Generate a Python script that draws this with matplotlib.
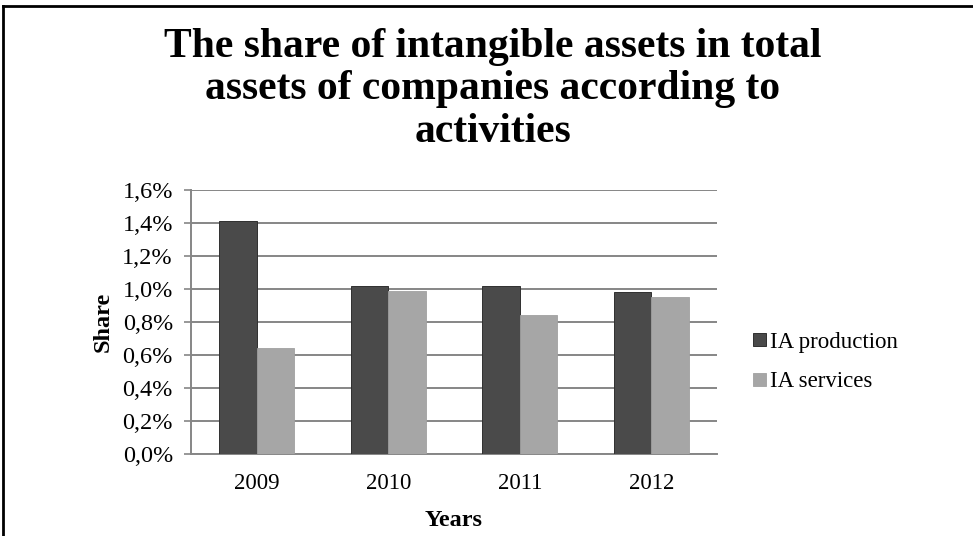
import matplotlib.pyplot as plt
from matplotlib.lines import Line2D
from matplotlib.ticker import FuncFormatter

years = ["2009", "2010", "2011", "2012"]
ia_production = [1.41, 1.02, 1.02, 0.98]
ia_services = [0.64, 0.99, 0.84, 0.95]
yticks = [0.0, 0.2, 0.4, 0.6, 0.8, 1.0, 1.2, 1.4, 1.6]

plt.rcParams["font.family"] = ["Liberation Serif", "DejaVu Serif"]

W, H = 973, 536
fig = plt.figure(figsize=(W / 100, H / 100), dpi=100)
ax = fig.add_axes([191 / W, 1 - 454 / H, (717 - 191) / W, (454 - 190) / H])

x = list(range(len(years)))
w = 0.285
ax.bar([i - w / 2 for i in x], ia_production, width=w, color="#4a4a4a",
       edgecolor="#303030", linewidth=0.7, label="IA production", zorder=3)
ax.bar([i + w / 2 for i in x], ia_services, width=w, color="#a6a6a6",
       edgecolor="#a0a0a0", linewidth=0.6, label="IA services", zorder=3)

ax.set_xlim(-0.5, len(years) - 0.5)
ax.set_ylim(0, 1.6)
ax.set_yticks(yticks)
ax.yaxis.set_major_formatter(FuncFormatter(lambda v, _: f"{v:.1f}%".replace(".", ",")))
ax.set_xticks(x)
ax.set_xticklabels(years)
ax.grid(axis="y", color="#868686", linewidth=1.4, zorder=0)
for s in ["top", "right"]:
    ax.spines[s].set_visible(False)
for s in ["left", "bottom"]:
    ax.spines[s].set_color("#868686")
    ax.spines[s].set_linewidth(1.4)
ax.tick_params(axis="y", length=5, width=1.2, color="#868686", labelsize=17.5, pad=8)
ax.tick_params(axis="x", length=0, labelsize=16.5, pad=14)

ax.set_ylabel("Share", fontsize=17.5, fontweight="bold")
ax.yaxis.set_label_coords((103 - 191) / (717 - 191), 0.5)
ax.set_xlabel("Years", fontsize=17.5, fontweight="bold")
ax.xaxis.set_label_coords(0.5, -(520 - 454) / (454 - 190))
ax.xaxis.label.set_va("center")
ax.yaxis.label.set_va("center")

fig.text(493 / W, 1 - 28 / H,
         "The share of intangible assets in total\nassets of companies according to\nactivities",
         ha="center", va="top", fontsize=30, fontweight="bold", linespacing=1.15)

ax.legend(loc="center left", bbox_to_anchor=(753 / W, 1 - 362 / H),
          bbox_transform=fig.transFigure, frameon=False, borderpad=0,
          borderaxespad=0, fontsize=16.5, handlelength=0.55, handleheight=0.5,
          handletextpad=0.2, labelspacing=0.8)

# partial frame around the figure
fig.add_artist(Line2D([3 / W, 3 / W], [0, 1 - 6 / H], color="black", linewidth=2,
                      transform=fig.transFigure))
fig.add_artist(Line2D([3 / W, 1], [1 - 6 / H, 1 - 6 / H], color="black", linewidth=2,
                      transform=fig.transFigure))

fig.savefig("out.png", dpi=100)
